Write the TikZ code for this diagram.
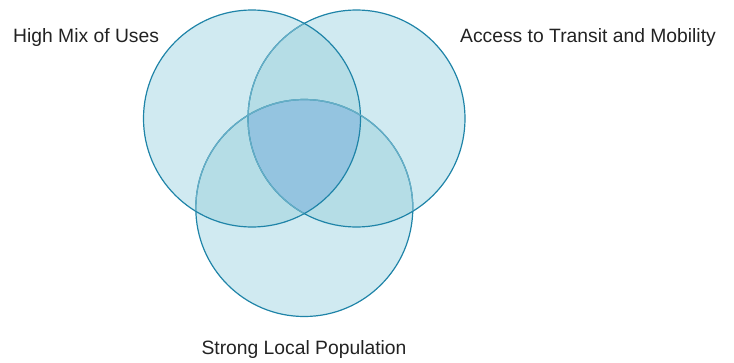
\documentclass[tikz,border=0pt]{standalone}
\usepackage{fontspec}
\setmainfont{Liberation Sans}
\definecolor{onefill}{HTML}{D0EAF1}
\definecolor{twofill}{HTML}{B5DDE6}
\definecolor{threefill}{HTML}{94C4E0}
\definecolor{rimdark}{HTML}{1F84A8}
\definecolor{rimlight}{HTML}{66AEC6}
\definecolor{labeltext}{HTML}{222222}
\begin{document}
\begin{tikzpicture}[x=1pt,y=-1pt,
  label/.style={text=labeltext,font=\fontsize{19.3}{23}\selectfont,inner sep=0pt}]
\useasboundingbox (0,0) rectangle (734,362);

% Centres of the three circles
\coordinate (mix) at (252,118.5);
\coordinate (transit) at (356.5,118.5);
\coordinate (pop) at (304.3,208);
\def\rad{108.5}

% Single areas
\fill [onefill] (mix) circle [radius=\rad];
\fill [onefill] (transit) circle [radius=\rad];
\fill [onefill] (pop) circle [radius=\rad];

% Overlap of two circles
\begin{scope}
\clip (mix) circle [radius=\rad];
\fill [twofill] (transit) circle [radius=\rad];
\fill [twofill] (pop) circle [radius=\rad];
\end{scope}
\begin{scope}
\clip (transit) circle [radius=\rad];
\fill [twofill] (pop) circle [radius=\rad];
\end{scope}

% Overlap of all three
\begin{scope}
\clip (mix) circle [radius=\rad];
\clip (transit) circle [radius=\rad];
\fill [threefill] (pop) circle [radius=\rad];
\end{scope}

% Outlines
\draw [rimdark, line width=1.2pt] (mix) circle [radius=\rad];
\draw [rimdark, line width=1.2pt] (transit) circle [radius=\rad];
\draw [rimdark, line width=1.2pt] (pop) circle [radius=\rad];

% Lighter outline parts lying under another circle
\begin{scope}
\clip (mix) circle [radius=\rad-0.6];
\draw [rimlight, line width=1.2pt] (transit) circle [radius=\rad];
\draw [rimlight, line width=1.2pt] (pop) circle [radius=\rad];
\end{scope}
\begin{scope}
\clip (transit) circle [radius=\rad-0.6];
\draw [rimlight, line width=1.2pt] (pop) circle [radius=\rad];
\end{scope}

% Labels
\node [label, anchor=west] (mixlabel) at (13,38) {High Mix of Uses};
\node [label, anchor=east] (transitlabel) at (716,38) {Access to Transit and Mobility};
\node [label] (poplabel) at (304,350) {Strong Local Population};
\end{tikzpicture}
\end{document}
